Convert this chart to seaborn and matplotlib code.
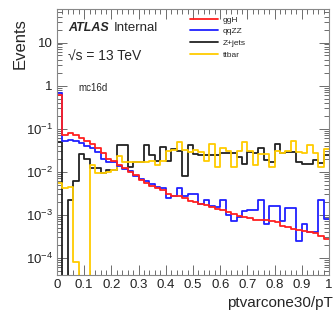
import matplotlib
matplotlib.use("Agg")
import matplotlib.pyplot as plt
from matplotlib.lines import Line2D
from matplotlib.ticker import FixedLocator, LogLocator, NullFormatter, MultipleLocator
import numpy as np
import pandas as pd
import seaborn as sns

# ── 数据（50 bins, 0–1）──────────────────────────
n_bins = 50
x_range = (0.0, 1.0)

ggH = [0.60, 0.070, 0.078, 0.071, 0.062, 0.052, 0.044, 0.035, 0.027, 0.020,
       0.018, 0.0142, 0.0119, 0.0099, 0.0083, 0.0063, 0.0055, 0.0046, 0.0041, 0.0037,
       0.0031, 0.0027, 0.0027, 0.0024, 0.0021, 0.0020, 0.00182, 0.00166, 0.00152, 0.00139,
       0.00127, 0.00116, 0.00106, 0.00092, 0.00089, 0.00086, 0.00076, 0.00074, 0.00074, 0.00072,
       0.00068, 0.00054, 0.00052, 0.00048, 0.00044, 0.00042, 0.00040, 0.00037, 0.00033, 0.00027]

qqZZ = [0.68, 0.052, 0.055, 0.052, 0.046, 0.040, 0.035, 0.028, 0.020, 0.017,
        0.017, 0.0135, 0.0118, 0.0103, 0.0078, 0.0068, 0.0060, 0.0052, 0.0045, 0.0041,
        0.0025, 0.0027, 0.0043, 0.0027, 0.0030, 0.0030, 0.0018, 0.0022, 0.0016, 0.0015,
        0.0022, 0.0010, 0.0007, 0.0009, 0.0012, 0.0013, 0.0013, 0.0022, 0.0006, 0.0016,
        0.0016, 0.0007, 0.0014, 0.0014, 0.00025, 0.0006, 0.0004, 0.0004, 0.0022, 0.0008]

zjets = [0.05, 0.0, 0.0022, 0.006, 0.026, 0.020, 0.012, 0.012, 0.0095, 0.011,
         0.011, 0.041, 0.041, 0.013, 0.017, 0.017, 0.042, 0.024, 0.018, 0.037,
         0.018, 0.034, 0.031, 0.008, 0.041, 0.026, 0.024, 0.025, 0.025, 0.024,
         0.027, 0.027, 0.0265, 0.022, 0.0155, 0.028, 0.027, 0.035, 0.019, 0.017,
         0.045, 0.027, 0.028, 0.028, 0.017, 0.0155, 0.0155, 0.019, 0.016, 0.025]

ttbar = [0.0055, 0.0041, 0.0045, 0.00008, 0.0, 0.0, 0.014, 0.0091, 0.0095, 0.0099,
         0.011, 0.023, 0.017, 0.0165, 0.017, 0.017, 0.017, 0.018, 0.014, 0.018,
         0.030, 0.032, 0.048, 0.032, 0.029, 0.032, 0.028, 0.018, 0.045, 0.013,
         0.035, 0.030, 0.013, 0.030, 0.050, 0.030, 0.014, 0.026, 0.026, 0.013,
         0.030, 0.027, 0.030, 0.052, 0.028, 0.027, 0.041, 0.027, 0.013, 0.033]

series_names = ["ggH", "qqZZ", "Z+jets", "ttbar"]
series_colors = ["#ff2020", "#2020ff", "#222222", "#ffcc00"]

x_ticks = [0.0, 0.1, 0.2, 0.3, 0.4, 0.5, 0.6, 0.7, 0.8, 0.9, 1.0]
x_tick_labels = ["0", "0.1", "0.2", "0.3", "0.4", "0.5", "0.6", "0.7", "0.8", "0.9", "1"]
y_ticks = [1e-4, 1e-3, 1e-2, 1e-1, 1, 10]
y_tick_labels = [r"10$^{-4}$", r"10$^{-3}$", r"10$^{-2}$", r"10$^{-1}$", "1", "10"]

# ── 样式 ──────────────────────────────────────
sns.set_theme(style="ticks")
plt.rcParams["font.family"] = ["Liberation Sans", "DejaVu Sans"]
plt.rcParams["mathtext.fontset"] = "custom"
plt.rcParams["mathtext.rm"] = "Liberation Sans"

fig = plt.figure(figsize=(3.34, 3.22), dpi=100)
ax = fig.add_axes([57 / 334, 1 - 275 / 322, (329 - 57) / 334, (275 - 9) / 322])

width = (x_range[1] - x_range[0]) / n_bins
centers = x_range[0] + width * (np.arange(n_bins) + 0.5)
data = {"ggH": ggH, "qqZZ": qqZZ, "Z+jets": zjets, "ttbar": ttbar}
draw_order = ["Z+jets", "ttbar", "qqZZ", "ggH"]
for name in draw_order:
    color = series_colors[series_names.index(name)]
    df = pd.DataFrame({"x": centers, "w": np.asarray(data[name], dtype=float)})
    sns.histplot(data=df, x="x", weights="w", bins=n_bins, binrange=x_range,
                 element="step", fill=False, color=color, linewidth=1.3, ax=ax)

ax.set_yscale("log", nonpositive="clip")
ax.set_xlim(0, 1)
ax.set_ylim(4e-5, 60)

ax.xaxis.set_major_locator(FixedLocator(x_ticks))
ax.set_xticklabels(x_tick_labels, fontsize=9.5)
ax.xaxis.set_minor_locator(MultipleLocator(0.02))
ax.yaxis.set_major_locator(FixedLocator(y_ticks))
ax.set_yticklabels(y_tick_labels, fontsize=9.5)
ax.yaxis.set_minor_locator(LogLocator(base=10, subs=np.arange(2, 10)))
ax.yaxis.set_minor_formatter(NullFormatter())

ax.tick_params(which="both", direction="in", top=True, right=True, colors="#555555",
               width=0.6, labelcolor="#222222")
ax.tick_params(which="major", length=7, pad=3)
ax.tick_params(which="minor", length=3.5)
for sp in ax.spines.values():
    sp.set_color("#888888")
    sp.set_linewidth(0.8)

ax.set_xlabel("")
ax.set_ylabel("")
fig.text(20 / 334, 1 - 18 / 322, "Events", rotation=90, ha="center", va="top", fontsize=12)
fig.text(0.998, 1 - 303 / 322, "ptvarcone30/pT", ha="right", va="center", fontsize=11)

fig.text(68 / 334, 1 - 28 / 322, "ATLAS", fontsize=9, weight="bold", style="italic",
         va="center")
fig.text(114 / 334, 1 - 28 / 322, "Internal", fontsize=9.5, va="center")
fig.text(68 / 334, 1 - 57 / 322, "\u221as = 13 TeV", fontsize=10, va="center")
fig.text(78 / 334, 1 - 88 / 322, "mc16d", fontsize=7, va="center")

handles = [Line2D([], [], color=c, linewidth=1.3) for c in series_colors]
fig.legend(handles, series_names, loc="upper left", bbox_to_anchor=(190 / 334, 1 - 16 / 322),
           frameon=False, fontsize=6, handlelength=3.3, handletextpad=0.6,
           labelspacing=0.45, borderpad=0, borderaxespad=0)

fig.savefig("out.png", dpi=100)
